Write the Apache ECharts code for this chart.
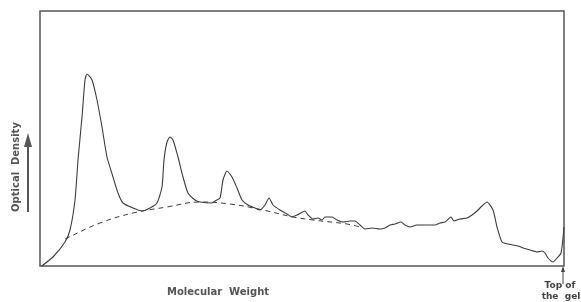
<!DOCTYPE html>
<html><head><meta charset="utf-8">
<script src="https://cdn.jsdelivr.net/npm/echarts@6/dist/echarts.min.js"></script>
<style>html,body{margin:0;padding:0;background:#fff}#c{width:581px;height:302px}</style>
</head><body><div id="c"></div>
<script>
// Densitometer trace (x: distance along gel, y: optical density, arbitrary units)
const traceX = [1.7,13,25,30,35,38,42,45,47,52,57,62,67,73,78,83,93,102,110,117,122,124,127,130,133,138,143,148,155,160,172,175,180,183,187,192,197,202,208,215,220,225,229,233,240,247,252,257,265,268,273,278,282,285,288,292,297,303,310,315,320,325,332,340,345,350,355,361,365,370,377,383,390,395,400,405,411,414,420,427,432,437,442,447,453,457,462,468,473,478,483,490,497,502,505,508,513,517,521,523,524];
const traceY = [0,9,24,36,66,106,149,186,192,186,166,139,109,89,73,63,58,55,58,63,79,106,124,129,126,109,89,73,66,64,63,65,68,86,95,89,78,66,61,58,56,61,68,61,56,52,49,51,55,51,47,48,46,49,49,49,46,44,45,45,41,37,38,37,38,41,42,44,41,39,41,41,41,41,43,44,49,45,47,48,51,55,60,64,56,39,24,22,21,20,18,16,14,15,13,8,4,8,13,28,39];
// Estimated background (dashed)
const baseX = [25,27,60,93,127,160,190,223,253,273,307,320];
const baseY = [27,28,43,53,59,64,62,56,49,46,42,39];

const zip = (a,b)=>a.map((v,i)=>[v,b[i]]);
const chart = echarts.init(document.getElementById('c'));
const ink = '#3c3c3c';
chart.setOption({
  animation:false,
  grid:{left:40,top:11,width:524,height:255,show:true,borderColor:'#555',borderWidth:1.5,backgroundColor:'transparent'},
  xAxis:{type:'value',min:0,max:524,show:false},
  yAxis:{type:'value',min:0,max:255,show:false},
  series:[
    {type:'line',data:zip(traceX,traceY),symbol:'none',smooth:0.2,lineStyle:{color:ink,width:1.1}},
    {type:'line',data:zip(baseX,baseY),symbol:'none',smooth:0.4,lineStyle:{color:ink,width:1,type:[5,4]}}
  ],
  graphic:[
    {type:'text',x:16,y:167,rotation:Math.PI/2,style:{text:'Optical  Density',fill:'#555',font:'bold 10px "DejaVu Sans"',align:'center',verticalAlign:'middle'}},
    {type:'line',shape:{x1:28,y1:212,x2:28,y2:145},style:{stroke:'#555',lineWidth:2}},
    {type:'polygon',shape:{points:[[24,147],[32,147],[28,133]]},style:{fill:'#555'}},
    {type:'text',x:218,y:292,style:{text:'Molecular  Weight',fill:'#555',font:'bold 10px "DejaVu Sans"',align:'center',verticalAlign:'middle'}},
    {type:'line',shape:{x1:563,y1:284,x2:563,y2:270},style:{stroke:'#444',lineWidth:1}},
    {type:'polygon',shape:{points:[[561,272],[565,272],[563,266]]},style:{fill:'#444'}},
    {type:'text',x:560,y:286,style:{text:'Top of',fill:'#444',font:'bold 9px "DejaVu Sans"',align:'center',verticalAlign:'middle'}},
    {type:'text',x:561,y:297,style:{text:'the  gel',fill:'#444',font:'bold 9px "DejaVu Sans"',align:'center',verticalAlign:'middle'}}
  ]
});
</script></body></html>
